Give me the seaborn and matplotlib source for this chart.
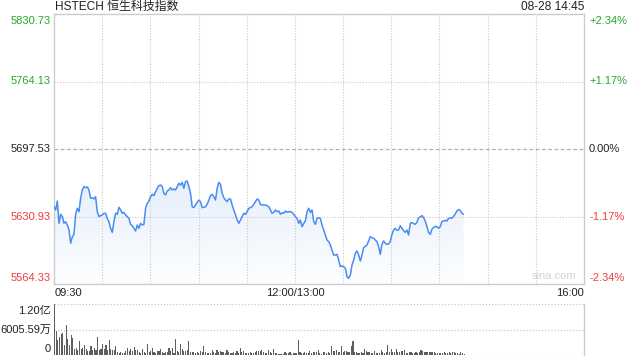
import numpy as np
import pandas as pd
import matplotlib
matplotlib.use("Agg")
import matplotlib.pyplot as plt
import matplotlib.transforms as mtransforms
from matplotlib.colors import LinearSegmentedColormap
import seaborn as sns

# ---------------- data ----------------
title = "HSTECH 恒生科技指数"
stamp = "08-28 14:45"
prev_close = 5697.53
y_ticks = [5564.33, 5630.93, 5697.53, 5764.13, 5830.73]
y_labels = ["5564.33", "5630.93", "5697.53", "5764.13", "5830.73"]
pct_labels = ["-2.34%", "-1.17%", "0.00%", "+1.17%", "+2.34%"]
time_labels = ["09:30", "12:00/13:00", "16:00"]
time_label_minutes = [0, 150, 330]
session_minutes = 330          # 09:30-12:00 + 13:00-16:00
last_minute = 255              # 14:45
grid_step = 30

price = [
    5640.6, 5637.4, 5646.2, 5624.2, 5633.1, 5630.8, 5624.2, 5625.8, 5622.5, 5617.6,
    5604.5, 5611.0, 5613.3, 5633.1, 5639.0, 5635.7, 5648.9, 5657.1, 5660.4, 5659.4,
    5660.0, 5657.1, 5648.9, 5649.5, 5648.2, 5650.5, 5635.7, 5630.8, 5631.8, 5632.4,
    5634.1, 5634.1, 5629.1, 5625.8, 5619.3, 5615.3, 5625.8, 5634.1, 5633.1, 5640.0,
    5637.4, 5634.1, 5635.0, 5632.4, 5630.8, 5629.1, 5623.2, 5621.9, 5619.3, 5616.6,
    5622.5, 5619.3, 5624.2, 5622.5, 5623.2, 5639.0, 5643.9, 5646.2, 5650.5, 5652.8,
    5651.5, 5655.4, 5658.7, 5661.4, 5662.0, 5660.4, 5653.8, 5652.2, 5656.1, 5657.1,
    5659.4, 5657.1, 5658.1, 5657.1, 5660.4, 5663.7, 5662.0, 5664.6, 5658.7, 5665.3,
    5666.0, 5660.4, 5653.8, 5640.6, 5639.7,
    5642.3, 5644.9, 5647.2, 5645.6, 5639.7, 5640.0, 5640.6, 5642.9, 5647.2, 5651.5,
    5652.8, 5650.5, 5647.2, 5658.7, 5664.6, 5662.7, 5653.8, 5649.5, 5647.2, 5645.6,
    5648.2, 5648.2, 5642.3, 5637.4, 5632.4, 5627.5, 5624.2, 5627.5, 5630.8, 5634.1,
    5633.1, 5635.7, 5639.0, 5639.7, 5640.6, 5642.9, 5645.6, 5648.2, 5647.2, 5642.9,
    5642.3, 5642.3, 5642.3, 5641.6, 5640.6, 5637.4, 5634.1, 5635.0, 5637.4, 5635.7,
    5636.4, 5633.1, 5634.7, 5634.1, 5636.4, 5635.0, 5635.7, 5635.7, 5635.0, 5633.1,
    5630.8, 5629.1, 5624.2, 5627.5, 5620.9, 5624.2, 5626.5, 5635.7, 5639.0, 5635.0,
    5637.4, 5625.8, 5623.2, 5629.1, 5629.8, 5629.1, 5622.5, 5617.6, 5612.7, 5607.7,
    5606.1, 5602.8, 5597.9, 5592.9,
    5592.9, 5593.6, 5588.0, 5581.4, 5582.1, 5581.4, 5579.8, 5571.6, 5569.9, 5573.2,
    5583.1, 5588.0, 5594.6, 5596.9, 5592.9, 5587.0, 5592.9, 5600.2, 5601.5, 5602.8,
    5606.8, 5611.0, 5610.0, 5609.4, 5607.7, 5606.1, 5601.2, 5593.6, 5603.5, 5606.8,
    5604.5, 5603.5, 5603.8, 5606.1, 5613.3, 5617.6, 5619.3, 5617.3, 5617.6, 5621.9,
    5619.3, 5617.0, 5615.3, 5617.6, 5612.7, 5624.2, 5624.9, 5623.9, 5623.2, 5625.2,
    5629.8, 5630.4, 5631.8, 5629.8, 5626.5, 5620.9, 5615.3, 5613.3, 5618.3, 5620.2,
    5621.2, 5620.9, 5619.3, 5620.9, 5625.8, 5626.5, 5627.2, 5626.5, 5629.1, 5629.5,
    5629.1, 5631.1, 5633.4, 5636.4, 5637.7, 5637.0, 5634.1, 5633.1,
]

# volume in 万 (10k) units
volume_wan = [
    12011, 5762, 3490, 4139, 4951, 5113, 2272, 7142, 3652, 2272,
    4707, 3896, 1461, 1704, 1217, 3246, 1461, 1623, 2272, 1461,
    1055, 1055, 2029, 1217, 1623, 1217, 4139, 1217, 1461, 2516,
    1299, 2272, 1217, 3490, 1461, 1217, 1217, 2029, 649, 406,
    812, 406, 406, 1055, 1704, 1055, 1461, 1055, 1867, 1217,
    1217, 649, 487, 1461, 649, 406, 2678, 649, 1055, 1623,
    649, 568, 893, 1055, 1461, 649, 568, 649, 649, 1704,
    1055, 1623, 568, 3652, 1055, 649, 2516, 1461, 1055, 1055,
    1217, 3246, 649, 812, 649, 487, 649, 406, 1055, 649,
    2029, 649, 406, 487, 406, 1217, 649, 487, 1217, 649,
    1055, 649, 649, 568, 1217, 649, 568, 487, 649, 568,
    1055, 487, 1704, 649, 1055, 487, 406, 487, 649, 406,
    487, 649, 893, 1055, 893,
    1217, 649, 406, 406, 1217, 649, 406, 1461, 406, 406,
    243, 243, 243, 243, 649, 406, 406, 649, 243, 406,
    406, 406, 3490, 812, 406, 487, 649, 406, 406, 1055,
    406, 649, 812, 649, 1217, 406, 243, 812, 649, 406,
    649, 406, 2029, 1055, 1055, 1217, 812, 812, 2029, 812,
    1055, 1055, 812, 812, 2029, 3246, 812, 812, 406, 406,
    649, 406, 1461, 1055, 649, 812, 406, 406, 1055, 406,
    406, 406, 1217, 649, 406, 812, 2272, 812, 1461, 812,
    649, 1461, 812, 649, 1055, 1055, 1217, 406, 406, 649,
    649, 406, 406, 649, 406, 812, 1217, 1055, 812, 812,
    812, 812, 649, 812, 649, 406, 406, 406, 406, 406,
    649, 406, 406, 649, 406, 649, 649, 406, 406, 243,
    649, 406, 243,
]
vol_ticks = [0, 6005.59, 12011.18]
vol_labels = ["0", "6005.59万", "1.20亿"]

# ---------------- style ----------------
sns.set_theme(style="white")
plt.rcParams['font.family'] = ['Liberation Sans', 'Noto Sans CJK SC', 'DejaVu Sans']

GREEN = "#26a826"
RED = "#f03c3c"
DARK = "#222222"
GRID = "#c8c8c8"
SPINE = "#cccccc"
LINE = "#4a8cf2"

fig = plt.figure(figsize=(6.4, 3.6), dpi=100)
W, H = 640.0, 360.0
ax = fig.add_axes([54 / W, 1 - 284 / H, 530 / W, 270 / H])
axv = fig.add_axes([54 / W, 1 - 355 / H, 530 / W, 51 / H])

# ---------------- price panel ----------------
t = np.linspace(0, last_minute, len(price))
df = pd.DataFrame({"minute": t, "price": price})
ymin, ymax = y_ticks[0], y_ticks[-1]

# gradient fill under line
poly = ax.fill_between(df["minute"], df["price"], ymin, color="none", lw=0)
path = poly.get_paths()[0]
cmap = LinearSegmentedColormap.from_list("fill", ["#fdfeff", "#e7effc"])
grad = np.linspace(0, 1, 256).reshape(-1, 1)
im = ax.imshow(grad, extent=[0, last_minute, ymin, max(price)], aspect="auto",
               cmap=cmap, origin="lower", zorder=1, interpolation="bicubic")
im.set_clip_path(path, transform=ax.transData)

sns.lineplot(data=df, x="minute", y="price", ax=ax, color=LINE, lw=1.1, zorder=3)

ax.set_xlim(0, session_minutes)
ax.set_ylim(ymin, ymax)
ax.set_xticks([])
ax.set_yticks([])
ax.set_xlabel("")
ax.set_ylabel("")
for s in ax.spines.values():
    s.set_color(SPINE)
    s.set_linewidth(1.0)

for m in range(grid_step, session_minutes, grid_step):
    ax.axvline(m, color=GRID, lw=0.8, ls=(0, (1, 1.5)), zorder=2)
for v in (y_ticks[1], y_ticks[3]):
    ax.axhline(v, color=GRID, lw=0.8, ls=(0, (1, 1.5)), zorder=2)
ax.axhline(prev_close, color="#b0b0b0", lw=0.9, ls=(0, (3, 2)), zorder=2)

trans_l = mtransforms.blended_transform_factory(ax.transAxes, ax.transData)
colors = [RED, RED, DARK, GREEN, GREEN]
for i, (v, lab, pct, c) in enumerate(zip(y_ticks, y_labels, pct_labels, colors)):
    if i == 0:
        va, off = "bottom", 1.0
    elif i == len(y_ticks) - 1:
        va, off = "top", -1.5
    else:
        va, off = "center", 0.0
    ax.annotate(lab, xy=(0, v), xycoords=trans_l, xytext=(-3, off),
                textcoords="offset pixels", ha="right", va=va, color=c, fontsize=8)
    ax.annotate(pct, xy=(1, v), xycoords=trans_l, xytext=(5, off),
                textcoords="offset pixels", ha="left", va=va, color=c, fontsize=8)

trans_b = mtransforms.blended_transform_factory(ax.transData, ax.transAxes)
aligns = ["left", "center", "right"]
for m, lab, ha in zip(time_label_minutes, time_labels, aligns):
    ax.annotate(lab, xy=(m, 0), xycoords=trans_b, xytext=(1 if ha == "left" else 0, -9),
                textcoords="offset pixels", ha=ha, va="center", color=DARK, fontsize=8)

ax.text(0.985, 0.012, "sina.com", transform=ax.transAxes, ha="right", va="bottom",
        color="#d2d2d2", fontsize=8, zorder=4)

fig.text(55 / W, 1 - 7 / H, title, ha="left", va="center", color=DARK, fontsize=8.6)
fig.text(584 / W, 1 - 7 / H, stamp, ha="right", va="center", color=DARK, fontsize=8.6)

# ---------------- volume panel ----------------
tv = np.linspace(0, last_minute, len(volume_wan))
axv.bar(tv, volume_wan, width=0.7, align="edge", color="#5e5e5e", lw=0, zorder=3)
axv.set_xlim(0, session_minutes)
axv.set_ylim(0, vol_ticks[-1])
axv.set_xticks([])
axv.set_yticks([])
for side in ("left", "top", "bottom"):
    axv.spines[side].set_visible(False)
axv.spines["right"].set_color(SPINE)
axv.spines["right"].set_linewidth(1.0)
for v in vol_ticks:
    axv.axhline(v, color=GRID, lw=0.9, ls=(0, (1, 1.5)), zorder=1)

trans_v = mtransforms.blended_transform_factory(axv.transAxes, axv.transData)
vas = ["bottom", "center", "top"]
offs = [0.5, 0, -1.5]
for v, lab, va, off in zip(vol_ticks, vol_labels, vas, offs):
    axv.annotate(lab, xy=(0, v), xycoords=trans_v, xytext=(-3, off),
                 textcoords="offset pixels", ha="right", va=va, color=DARK, fontsize=8)

fig.savefig("out.png", dpi=100)
